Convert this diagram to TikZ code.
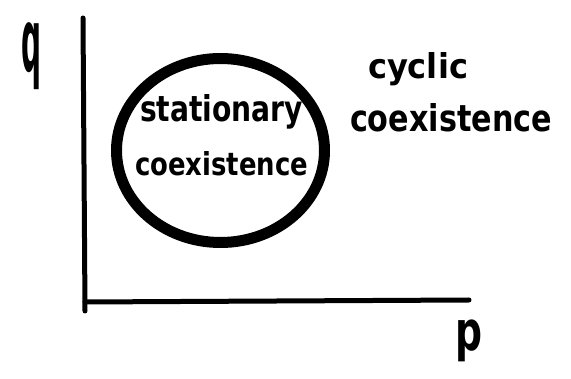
\documentclass[tikz,border=0pt]{standalone}
\usepackage{fontspec}
\setmainfont{DejaVu Sans}
\usepackage{graphicx}
\usetikzlibrary{shapes.geometric}
\tikzset{
  axisline/.style={line width=5pt, line cap=round, line join=round, black},
  regionline/.style={draw, ellipse, line width=11pt, black, inner sep=0pt},
  hand/.style={inner sep=0pt, outer sep=0pt, font=\bfseries},
}
\begin{document}
\begin{tikzpicture}[x=1pt, y=-1pt]
  \useasboundingbox (0,0) rectangle (571,379);
  % axes
  \coordinate (ytop) at (83,18);
  \coordinate (ybot) at (85,311);
  \coordinate (origin) at (85,302);
  \coordinate (xend) at (469,300);
  \draw[axisline] (ytop) -- (ybot);
  \draw[axisline] (origin) -- (xend);
  % axis labels
  \node[hand, anchor=north west] (qlab) at (22,23) {\resizebox*{20pt}{67pt}{q}};
  \node[hand, anchor=north west] (plab) at (455,320) {\resizebox*{27pt}{42pt}{p}};
  % stationary region
  \node[regionline, minimum width=208pt, minimum height=184pt] (region) at (220.5,150.5) {};
  \node[hand, anchor=base west] (stat1) at (140,122) {\resizebox{163pt}{27pt}{stationary}};
  \node[hand, anchor=base west] (stat2) at (135,176) {\resizebox{173pt}{24pt}{coexistence}};
  % cyclic region label
  \node[hand, anchor=base west] (cyc1) at (368,79) {\resizebox{100pt}{26pt}{cyclic}};
  \node[hand, anchor=base west] (cyc2) at (350,132) {\resizebox{202pt}{28pt}{coexistence}};
\end{tikzpicture}
\end{document}
